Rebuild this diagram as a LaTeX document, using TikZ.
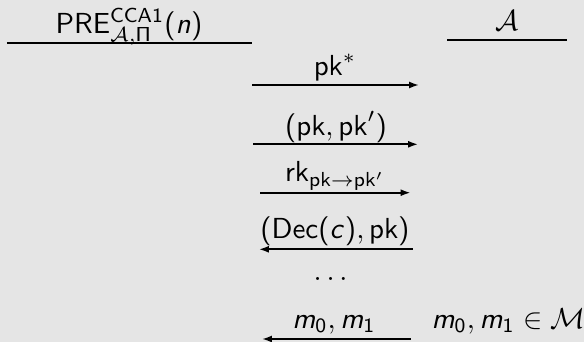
\documentclass[tikz,border=0pt]{standalone}
\usepackage{amsmath}
\usepackage{xcolor}
\usepackage{tikz}
\usetikzlibrary{arrows.meta,positioning,calc}
% sans serif maths, as on the slides
\DeclareSymbolFont{operators}{OT1}{cmss}{m}{n}
\DeclareSymbolFont{sfslanted}{OT1}{cmss}{m}{sl}
\DeclareMathSymbol{c}{\mathalpha}{sfslanted}{`c}
\DeclareMathSymbol{m}{\mathalpha}{sfslanted}{`m}
\DeclareMathSymbol{n}{\mathalpha}{sfslanted}{`n}
\definecolor{slidebg}{HTML}{E5E5E5}
\definecolor{ink}{HTML}{000000}
\tikzset{
  partyname/.style={inner sep=0pt,anchor=base,text=ink,font=\sffamily},
  msglabel/.style={inner sep=0pt,anchor=base,text=ink,font=\sffamily},
  partyrule/.style={line width=0.6pt,draw=ink},
  msgto/.style={-{Latex[length=3.4pt,width=2.4pt]},line width=0.6pt,draw=ink},
  msgfrom/.style={{Latex[length=3.4pt,width=2.4pt]}-,line width=0.6pt,draw=ink}
}

\begin{document}
\begin{tikzpicture}[x=0.345pt,y=-0.345pt]
  \fill[slidebg] (0,0) rectangle (584,342);
  \useasboundingbox (0,0) rectangle (584,342);
  % parties
  \node[partyname] (game) at (129,33) {PRE$^{\mathsf{CCA1}}_{\mathcal{A},\Pi}(n)$};
  \node[partyname] (adv) at (507,30.5) {$\mathcal{A}$};
  \coordinate (gameL) at (7,43);
  \coordinate (gameR) at (252,43);
  \coordinate (advL) at (447,40);
  \coordinate (advR) at (567,40);
  \draw[partyrule] (gameL) -- (gameR);
  \draw[partyrule] (advL) -- (advR);
  % messages
  \node[msglabel] (pkstar) at (335,76) {$\mathsf{pk}^*$};
  \coordinate (pkstarL) at (252,85);
  \coordinate (pkstarR) at (419,85);
  \draw[msgto] (pkstarL) -- (pkstarR);
  \node[msglabel] (pkpair) at (336,135) {$(\mathsf{pk},\mathsf{pk}')$};
  \coordinate (pkpairL) at (253,144.3);
  \coordinate (pkpairR) at (418,144.3);
  \draw[msgto] (pkpairL) -- (pkpairR);
  \node[msglabel] (rekey) at (335,182) {$\mathsf{rk}_{\mathsf{pk}\to\mathsf{pk}'}$};
  \coordinate (rekeyL) at (260,192.7);
  \coordinate (rekeyR) at (410.5,192.7);
  \draw[msgto] (rekeyL) -- (rekeyR);
  \node[msglabel] (decans) at (335,239) {$(\mathsf{Dec}(c),\mathsf{pk})$};
  \coordinate (decansL) at (259,249.3);
  \coordinate (decansR) at (413,249.3);
  \draw[msgfrom] (decansL) -- (decansR);
  \node[msglabel] (more) at (333,280) {$\dots$};
  \node[msglabel] (msgs) at (334,328) {$m_0,m_1$};
  \coordinate (msgsL) at (262,339);
  \coordinate (msgsR) at (411,339);
  \draw[msgfrom] (msgsL) -- (msgsR);
  \node[msglabel,anchor=base west] (msgspace) at (431,328) {$m_0,m_1\in\mathcal{M}$};
\end{tikzpicture}
\end{document}
